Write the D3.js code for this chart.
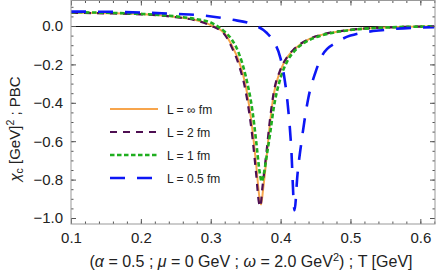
<!DOCTYPE html>
<html>
<head>
<meta charset="utf-8">
<script src="https://cdn.jsdelivr.net/npm/d3@7"></script>
<style>
  body { margin: 0; background: #fff; }
  text { font-family: "Liberation Sans", Arial, sans-serif; fill: #222; }
</style>
</head>
<body>
<script>
// temperatures (GeV) and chi_c values
const tInf = [0.10,0.15,0.20,0.25,0.28,0.30,0.32,0.33,0.34,0.35,0.36,0.365,0.37,0.372,0.375,0.38,0.385,0.39,0.40,0.41,0.42,0.44,0.46,0.50,0.55,0.60,0.62];
const vInf = [0.070,0.067,0.062,0.047,0.030,0.005,-0.040,-0.100,-0.180,-0.310,-0.550,-0.720,-0.900,-0.930,-0.850,-0.680,-0.500,-0.360,-0.230,-0.160,-0.120,-0.070,-0.045,-0.020,-0.008,-0.003,-0.002];

const tL2 = [0.10,0.15,0.20,0.25,0.28,0.30,0.32,0.33,0.34,0.35,0.36,0.365,0.369,0.371,0.374,0.38,0.385,0.39,0.40,0.41,0.42,0.44,0.46,0.50,0.55,0.60,0.62];
const vL2 = [0.069,0.066,0.061,0.046,0.028,0.002,-0.045,-0.110,-0.200,-0.340,-0.590,-0.770,-0.920,-0.940,-0.840,-0.650,-0.480,-0.350,-0.225,-0.158,-0.118,-0.069,-0.044,-0.020,-0.008,-0.003,-0.002];

const tL1 = [0.10,0.15,0.20,0.25,0.28,0.30,0.32,0.33,0.34,0.35,0.36,0.365,0.37,0.373,0.376,0.38,0.385,0.39,0.40,0.41,0.42,0.44,0.46,0.50,0.55,0.60,0.62];
const vL1 = [0.072,0.069,0.063,0.050,0.035,0.018,-0.030,-0.070,-0.140,-0.260,-0.450,-0.600,-0.760,-0.810,-0.770,-0.680,-0.560,-0.430,-0.270,-0.180,-0.130,-0.075,-0.048,-0.021,-0.008,-0.003,-0.002];

const tL05 = [0.10,0.15,0.20,0.25,0.29,0.33,0.36,0.38,0.39,0.40,0.405,0.41,0.415,0.42,0.424,0.43,0.44,0.45,0.46,0.48,0.50,0.55,0.60,0.62];
const vL05 = [0.075,0.074,0.070,0.063,0.055,0.033,0.008,-0.035,-0.080,-0.170,-0.260,-0.400,-0.620,-0.960,-0.780,-0.600,-0.370,-0.240,-0.150,-0.085,-0.050,-0.020,-0.008,-0.006];

const seriesNames = ["L = \u221e fm", "L = 2 fm", "L = 1 fm", "L = 0.5 fm"];
const xTicks = [0.1,0.2,0.3,0.4,0.5,0.6];
const yTicks = [0.0,-0.2,-0.4,-0.6,-0.8,-1.0];

const W = 436, H = 278;
const pLeft = 71, pRight = 435, pTop = 0.5, pBottom = 224;

const x = d3.scaleLinear().domain([0.1, 0.621]).range([pLeft, pRight]);
const y = d3.scaleLinear().domain([-1.0, 0.0]).range([218, 26]);
y.domain([y.invert(pBottom), y.invert(pTop)]).range([pBottom, pTop]);

const svg = d3.select("body").append("svg").attr("width", W).attr("height", H);

svg.append("clipPath").attr("id", "clip")
  .append("rect").attr("x", pLeft).attr("y", pTop).attr("width", pRight - pLeft).attr("height", pBottom - pTop);

// zero line
svg.append("line")
  .attr("x1", pLeft).attr("x2", pRight)
  .attr("y1", y(0) + 0.5).attr("y2", y(0) + 0.5)
  .attr("stroke", "#111").attr("stroke-width", 1);

const styles = [
  {t: tInf, v: vInf, color: "#f7a54c", width: 2, dash: null},
  {t: tL2, v: vL2, color: "#4e0f52", width: 2.2, dash: "7,6"},
  {t: tL1, v: vL1, color: "#1fae1f", width: 2.6, dash: "4.5,2.5"},
  {t: tL05, v: vL05, color: "#0d17f5", width: 2.6, dash: "15,12"}
];

const line = d3.line()
  .x(d => x(d[0])).y(d => y(d[1]))
  .curve(d3.curveMonotoneX);

const g = svg.append("g").attr("clip-path", "url(#clip)");
styles.forEach(s => {
  g.append("path")
    .datum(d3.zip(s.t, s.v))
    .attr("d", line)
    .attr("fill", "none")
    .attr("stroke", s.color)
    .attr("stroke-width", s.width)
    .attr("stroke-dasharray", s.dash);
});

// axes: inward ticks on all four sides
const fmt = d3.format(".1f");
const xMinor = d3.range(0.1, 0.6201, 0.02);
const yMinor = d3.range(-1.0, 0.1301, 0.05);

function styleAxis(sel) {
  sel.select(".domain").remove();
  sel.selectAll(".tick line").attr("stroke", "#555");
  sel.selectAll("text").attr("font-size", 15).attr("fill", "#222");
}

svg.append("g").attr("transform", `translate(0,${pBottom})`)
  .call(d3.axisBottom(x).tickValues(xMinor).tickSize(-2.5).tickFormat(""))
  .call(styleAxis);
svg.append("g").attr("transform", `translate(0,${pBottom})`)
  .call(d3.axisBottom(x).tickValues(xTicks).tickSize(-5).tickPadding(8).tickFormat(fmt))
  .call(styleAxis);
svg.append("g").attr("transform", `translate(0,${pTop})`)
  .call(d3.axisTop(x).tickValues(xMinor).tickSize(-2.5).tickFormat(""))
  .call(styleAxis);
svg.append("g").attr("transform", `translate(0,${pTop})`)
  .call(d3.axisTop(x).tickValues(xTicks).tickSize(-5).tickFormat(""))
  .call(styleAxis);

svg.append("g").attr("transform", `translate(${pLeft},0)`)
  .call(d3.axisLeft(y).tickValues(yMinor).tickSize(-2.5).tickFormat(""))
  .call(styleAxis);
svg.append("g").attr("transform", `translate(${pLeft},0)`)
  .call(d3.axisLeft(y).tickValues(yTicks).tickSize(-5).tickPadding(8).tickFormat(fmt))
  .call(styleAxis);
svg.append("g").attr("transform", `translate(${pRight},0)`)
  .call(d3.axisRight(y).tickValues(yMinor).tickSize(-2.5).tickFormat(""))
  .call(styleAxis);
svg.append("g").attr("transform", `translate(${pRight},0)`)
  .call(d3.axisRight(y).tickValues(yTicks).tickSize(-5).tickFormat(""))
  .call(styleAxis);

// frame
svg.append("rect")
  .attr("x", pLeft).attr("y", pTop)
  .attr("width", pRight - pLeft).attr("height", pBottom - pTop)
  .attr("fill", "none").attr("stroke", "#999").attr("stroke-width", 1);

// legend
const lg = svg.append("g");
styles.forEach((s, i) => {
  const yy = 109 + i * 23;
  lg.append("line")
    .attr("x1", 110).attr("x2", 158).attr("y1", yy).attr("y2", yy)
    .attr("stroke", s.color).attr("stroke-width", s.width)
    .attr("stroke-dasharray", s.dash);
  lg.append("text")
    .attr("x", 167).attr("y", yy + 4.5)
    .attr("font-size", 12)
    .text(seriesNames[i]);
});

// axis titles
const yl = svg.append("text")
  .attr("transform", `translate(19.5,129) rotate(-90)`)
  .attr("text-anchor", "middle")
  .attr("font-size", 15);
yl.append("tspan").attr("font-style", "italic").text("\u03c7");
yl.append("tspan").attr("font-size", 10.5).attr("dy", 3).text("c");
yl.append("tspan").attr("dy", -3).text(" [GeV]");
yl.append("tspan").attr("font-size", 10.5).attr("dy", -6).text("2");
yl.append("tspan").attr("dy", 6).text(" ; PBC");

const xl = svg.append("text")
  .attr("x", 251).attr("y", 267)
  .attr("text-anchor", "middle")
  .attr("font-size", 16);
xl.append("tspan").text("(");
xl.append("tspan").attr("font-style", "italic").text("\u03b1");
xl.append("tspan").text(" = 0.5 ; ");
xl.append("tspan").attr("font-style", "italic").text("\u03bc");
xl.append("tspan").text(" = 0 GeV ; ");
xl.append("tspan").attr("font-style", "italic").text("\u03c9");
xl.append("tspan").text(" = 2.0 GeV");
xl.append("tspan").attr("font-size", 11).attr("dy", -6).text("2");
xl.append("tspan").attr("dy", 6).text(") ; T [GeV]");
</script>
</body>
</html>
